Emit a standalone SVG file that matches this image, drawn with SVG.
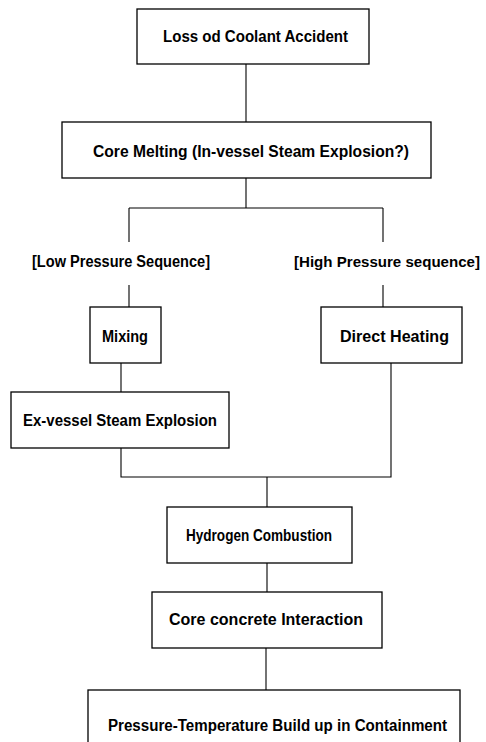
<svg xmlns="http://www.w3.org/2000/svg" width="486" height="742" viewBox="0 0 486 742">
<style>
.box{fill:#fff;stroke:#000;stroke-width:1.3}
.t{font-family:"Liberation Sans",Arial,sans-serif;font-weight:bold;font-size:16px;fill:#000}
.c{fill:none;stroke:#000;stroke-width:1.1}
</style>
<rect width="486" height="742" fill="#fff"/>
<g id="connectors">
<path class="c" d="M246 64V122"/>
<path class="c" d="M246 178V208M129 208H383M129 208V242M383 208V242"/>
<path class="c" d="M129 285V307M383 285V307"/>
<path class="c" d="M121 363V392"/>
<path class="c" d="M121 448V477H391V363M267 477V507"/>
<path class="c" d="M267 563V592"/>
<path class="c" d="M266 648V690"/>
</g>
<g id="n1"><rect class="box" x="137" y="9" width="232" height="55"/><text class="t" x="163" y="42" textLength="185" lengthAdjust="spacingAndGlyphs">Loss od Coolant Accident</text></g>
<g id="n2"><rect class="box" x="62" y="122" width="369" height="56"/><text class="t" x="93" y="157" textLength="316" lengthAdjust="spacingAndGlyphs">Core Melting (In-vessel Steam Explosion?)</text></g>
<g id="l1"><text class="t" x="32" y="267" textLength="178" lengthAdjust="spacingAndGlyphs">[Low Pressure Sequence]</text></g>
<g id="l2"><text class="t" x="294" y="267" style="font-size:15px" textLength="186" lengthAdjust="spacingAndGlyphs">[High Pressure sequence]</text></g>
<g id="n3"><rect class="box" x="90" y="307" width="71" height="56"/><text class="t" x="102" y="342" textLength="46" lengthAdjust="spacingAndGlyphs">Mixing</text></g>
<g id="n4"><rect class="box" x="321" y="307" width="141" height="56"/><text class="t" x="340" y="342" textLength="109" lengthAdjust="spacingAndGlyphs">Direct Heating</text></g>
<g id="n5"><rect class="box" x="11" y="392" width="218" height="56"/><text class="t" x="23" y="426" textLength="194" lengthAdjust="spacingAndGlyphs">Ex-vessel Steam Explosion</text></g>
<g id="n6"><rect class="box" x="167" y="507" width="185" height="56"/><text class="t" x="186" y="541" textLength="146" lengthAdjust="spacingAndGlyphs">Hydrogen Combustion</text></g>
<g id="n7"><rect class="box" x="152" y="592" width="230" height="56"/><text class="t" x="169" y="625" textLength="194" lengthAdjust="spacingAndGlyphs">Core concrete Interaction</text></g>
<g id="n8"><rect class="box" x="88" y="690" width="372" height="70"/><text class="t" x="108" y="731" textLength="339" lengthAdjust="spacingAndGlyphs">Pressure-Temperature Build up in Containment</text></g>
</svg>
